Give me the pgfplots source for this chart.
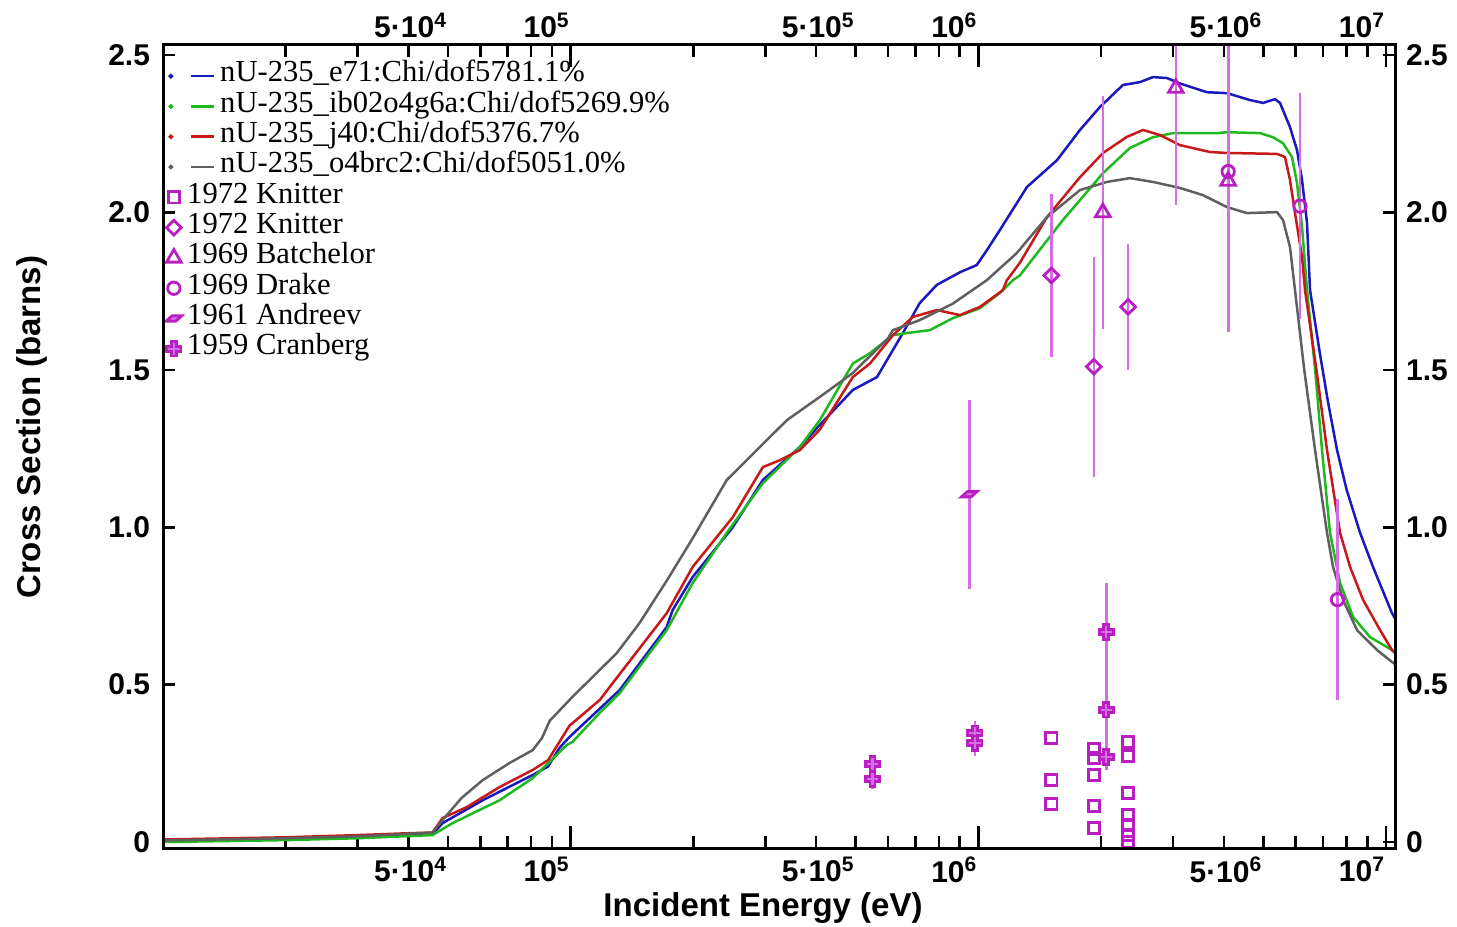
\documentclass[border=0pt]{standalone}
\usepackage{fontspec}
\setmainfont{Liberation Serif}
\newfontfamily\helv{Liberation Sans}
\usepackage{pgfplots}
\pgfplotsset{compat=1.18}

\definecolor{cblue}{RGB}{25,25,190}
\definecolor{cgreen}{RGB}{30,185,30}
\definecolor{cred}{RGB}{200,25,25}
\definecolor{cgray}{RGB}{95,95,95}
\definecolor{mag}{RGB}{185,30,195}
\definecolor{errc}{RGB}{212,110,226}

\pgfdeclareplotmark{fatplus}{%
  \pgfpathmoveto{\pgfqpoint{-0.35\pgfplotmarksize}{\pgfplotmarksize}}%
  \pgfpathlineto{\pgfqpoint{0.35\pgfplotmarksize}{\pgfplotmarksize}}%
  \pgfpathlineto{\pgfqpoint{0.35\pgfplotmarksize}{0.35\pgfplotmarksize}}%
  \pgfpathlineto{\pgfqpoint{\pgfplotmarksize}{0.35\pgfplotmarksize}}%
  \pgfpathlineto{\pgfqpoint{\pgfplotmarksize}{-0.35\pgfplotmarksize}}%
  \pgfpathlineto{\pgfqpoint{0.35\pgfplotmarksize}{-0.35\pgfplotmarksize}}%
  \pgfpathlineto{\pgfqpoint{0.35\pgfplotmarksize}{-\pgfplotmarksize}}%
  \pgfpathlineto{\pgfqpoint{-0.35\pgfplotmarksize}{-\pgfplotmarksize}}%
  \pgfpathlineto{\pgfqpoint{-0.35\pgfplotmarksize}{-0.35\pgfplotmarksize}}%
  \pgfpathlineto{\pgfqpoint{-\pgfplotmarksize}{-0.35\pgfplotmarksize}}%
  \pgfpathlineto{\pgfqpoint{-\pgfplotmarksize}{0.35\pgfplotmarksize}}%
  \pgfpathlineto{\pgfqpoint{-0.35\pgfplotmarksize}{0.35\pgfplotmarksize}}%
  \pgfpathclose\pgfusepathqfillstroke}
\pgfdeclareplotmark{para}{%
  \pgfpathmoveto{\pgfqpoint{-1.3\pgfplotmarksize}{-0.45\pgfplotmarksize}}%
  \pgfpathlineto{\pgfqpoint{0.3\pgfplotmarksize}{-0.45\pgfplotmarksize}}%
  \pgfpathlineto{\pgfqpoint{1.3\pgfplotmarksize}{0.45\pgfplotmarksize}}%
  \pgfpathlineto{\pgfqpoint{-0.3\pgfplotmarksize}{0.45\pgfplotmarksize}}%
  \pgfpathclose\pgfusepathqfillstroke}

\pgfplotsset{
  lin/.style={line width=1.25bp, no marks,
    legend image code/.code={\path (-1bp,0) (22bp,0); \fill[##1] (0,0) circle (0.5bp); \draw[##1] (10bp,0) -- (21.5bp,0);}},
  pts/.style={only marks, color=mag, line width=1.4bp,
    error bars/y dir=both, error bars/y explicit, error bars/error mark=none,
    error bars/error bar style={color=errc, line width=1.3bp},
    legend image code/.code={\path (-1bp,0) (22bp,0); \draw[##1] plot coordinates {(1.5bp,0)};}},
}
\newcommand\tlfont{\helv\bfseries\fontsize{15bp}{17bp}\selectfont}

\begin{document}
\begin{tikzpicture}
\begin{axis}[
  name=main,
  scale only axis, width=616bp, height=401.5bp,
  xmode=log, xmin=1e4, xmax=1.052e7,
  ymin=-0.019, ymax=2.532,
  axis line style={line width=1.5bp},
  tick style={line width=1.3bp, black},
  tick align=inside,
  major tick length=6bp, minor tick length=6bp,
  xtick={5e4,1e5,5e5,1e6,5e6,1e7},
  xticklabels={5·10\textsuperscript{4},10\textsuperscript{5},5·10\textsuperscript{5},10\textsuperscript{6},5·10\textsuperscript{6},10\textsuperscript{7}},
  minor xtick={2e4,3e4,4e4,6e4,7e4,8e4,9e4,2e5,3e5,4e5,6e5,7e5,8e5,9e5,2e6,3e6,4e6,6e6,7e6,8e6,9e6},
  ytick={0,0.5,1,1.5,2,2.5},
  yticklabels={0,0.5,1.0,1.5,2.0,2.5},
  ticklabel style={font=\tlfont},
  xticklabel style={anchor=north east, xshift=3bp, yshift=-1bp},
  yticklabel style={xshift=-3bp},
  xlabel={Incident Energy (eV)},
  ylabel={Cross Section (barns)},
  label style={font=\helv\bfseries\fontsize{16.5bp}{19bp}\selectfont},
  xlabel style={at={(axis description cs:0.487,0)}, anchor=base, yshift=-34bp},
  ylabel style={at={(axis description cs:0,0.524)}, anchor=center, rotate=0, yshift=65.5bp},
  legend style={at={(axis description cs:0,1)}, anchor=north west, xshift=1.5bp, yshift=-8bp,
    draw=none, fill=none, inner sep=0pt, outer sep=0pt, column sep=0pt, row sep=0pt,
    font=\fontsize{15.3bp}{15bp}\selectfont,
    nodes={inner xsep=2bp, inner ysep=0pt, text height=10.5bp, text depth=4.65bp}},
  legend cell align=left,
]
\addplot[lin, cblue] coordinates {
(1e4,0.005) (2e4,0.011) (3e4,0.016) (3.8e4,0.02) (4.58e4,0.024) (4.85e4,0.06) (6.09e4,0.133) (8.07e4,0.213) (8.8e4,0.24) (9.4e4,0.30) (9.94e4,0.334) (1.319e5,0.483) (1.72e5,0.683) (1.779e5,0.737) (1.992e5,0.842) (2.498e5,1.0) (2.96e5,1.15) (3.65e5,1.255) (4.083e5,1.325) (4.92e5,1.436) (5.64e5,1.477) (6.53e5,1.617) (7.18e5,1.712) (7.91e5,1.77) (9.01e5,1.81) (9.91e5,1.833) (1.049e6,1.88) (1.129e6,1.944) (1.316e6,2.081) (1.559e6,2.166) (1.775e6,2.262) (1.987e6,2.335) (2.263e6,2.405) (2.49e6,2.414) (2.68e6,2.43) (2.901e6,2.427) (3.12e6,2.41) (3.636e6,2.382) (4.072e6,2.379) (4.637e6,2.357) (4.992e6,2.348) (5.341e6,2.360) (5.494e6,2.348) (5.813e6,2.271) (6.048e6,2.198) (6.222e6,2.103) (6.40e6,1.966) (6.51e6,1.753) (6.887e6,1.55) (7.2e6,1.40) (7.583e6,1.245) (8.0e6,1.12) (8.636e6,0.982) (9.29e6,0.874) (1.034e7,0.727) (1.052e7,0.71)};
\addlegendentry{nU-235\_e71:Chi/dof5781.1\%}
\addplot[lin, cgreen] coordinates {
(1e4,0.0) (2e4,0.006) (3e4,0.012) (4.58e4,0.022) (5.13e4,0.06) (6.70e4,0.133) (8.07e4,0.203) (9.78e4,0.308) (1.01e5,0.318) (1.178e5,0.41) (1.319e5,0.473) (1.72e5,0.673) (1.992e5,0.823) (2.414e5,0.982) (2.96e5,1.14) (3.65e5,1.255) (4.083e5,1.34) (4.92e5,1.52) (5.42e5,1.553) (6.17e5,1.61) (6.68e5,1.617) (7.60e5,1.626) (8.65e5,1.664) (1.009e6,1.696) (1.129e6,1.744) (1.216e6,1.785) (1.264e6,1.80) (1.612e6,1.976) (2.022e6,2.125) (2.354e6,2.205) (2.68e6,2.239) (3.0e6,2.252) (3.849e6,2.252) (4.072e6,2.255) (4.908e6,2.252) (5.282e6,2.239) (5.588e6,2.220) (5.879e6,2.176) (6.048e6,2.093) (6.222e6,1.954) (6.40e6,1.753) (6.7e6,1.50) (6.966e6,1.245) (7.288e6,0.982) (7.713e6,0.823) (8.30e6,0.715) (9.136e6,0.651) (1.034e7,0.610) (1.052e7,0.605)};
\addlegendentry{nU-235\_ib02o4g6a:Chi/dof5269.9\%}
\addplot[lin, cred] coordinates {
(1e4,0.008) (2e4,0.015) (3e4,0.022) (4.0e4,0.028) (4.58e4,0.03) (4.85e4,0.076) (5.56e4,0.111) (6.70e4,0.175) (8.07e4,0.229) (8.8e4,0.26) (9.94e4,0.37) (1.178e5,0.451) (1.268e5,0.505) (1.72e5,0.727) (1.992e5,0.874) (2.498e5,1.032) (2.96e5,1.191) (3.26e5,1.213) (3.65e5,1.245) (4.083e5,1.31) (4.92e5,1.477) (5.42e5,1.52) (6.17e5,1.61) (6.91e5,1.668) (7.91e5,1.69) (9.01e5,1.674) (1.009e6,1.70) (1.148e6,1.753) (1.175e6,1.785) (1.264e6,1.84) (1.473e6,1.985) (1.775e6,2.112) (2.022e6,2.189) (2.313e6,2.24) (2.535e6,2.262) (2.789e6,2.246) (3.12e6,2.214) (3.70e6,2.192) (4.072e6,2.189) (5.402e6,2.186) (5.651e6,2.176) (5.813e6,2.103) (5.98e6,1.998) (6.222e6,1.858) (6.328e6,1.753) (6.75e6,1.50) (7.165e6,1.245) (7.713e6,0.982) (8.161e6,0.874) (8.784e6,0.769) (9.67e6,0.673) (1.034e7,0.610) (1.052e7,0.60)};
\addlegendentry{nU-235\_j40:Chi/dof5376.7\%}
\addplot[lin, cgray] coordinates {
(1e4,0.005) (2e4,0.012) (3e4,0.018) (4.58e4,0.03) (4.85e4,0.07) (5.4e4,0.14) (6.09e4,0.197) (7.08e4,0.251) (8.07e4,0.292) (8.5e4,0.33) (8.88e4,0.385) (1.01e5,0.461) (1.297e5,0.60) (1.476e5,0.696) (1.72e5,0.83) (1.992e5,0.965) (2.414e5,1.15) (2.86e5,1.245) (3.39e5,1.34) (4.083e5,1.414) (4.92e5,1.49) (6.0e5,1.60) (6.17e5,1.626) (7.18e5,1.658) (8.65e5,1.71) (1.049e6,1.785) (1.24e6,1.87) (1.473e6,1.985) (1.775e6,2.071) (2.067e6,2.097) (2.354e6,2.109) (2.68e6,2.097) (3.12e6,2.078) (3.556e6,2.055) (4.072e6,2.017) (4.559e6,1.998) (5.402e6,2.001) (5.588e6,1.976) (5.813e6,1.890) (5.98e6,1.753) (6.3e6,1.50) (6.697e6,1.245) (7.165e6,0.982) (7.413e6,0.874) (7.845e6,0.769) (8.49e6,0.673) (9.504e6,0.610) (1.034e7,0.572) (1.052e7,0.565)};
\addlegendentry{nU-235\_o4brc2:Chi/dof5051.0\%}
% 1972 Knitter squares
\addplot[pts, mark=square, mark size=2.8bp] coordinates {
(1.51e6,0.33) (1.51e6,0.197) (1.51e6,0.12)
(1.92e6,0.296) (1.92e6,0.267) (1.92e6,0.213) (1.92e6,0.114) (1.92e6,0.044)
(2.33e6,0.318) (2.33e6,0.273) (2.33e6,0.156) (2.33e6,0.086) (2.33e6,0.054) (2.33e6,0.022) (2.33e6,0.0)};
\addlegendentry{\hspace*{-16.5bp}1972 Knitter}
% 1972 Knitter diamonds
\addplot[pts, mark=square, mark size=2.6bp, mark options={rotate=45}] coordinates {
(1.51e6,1.80) +- (0,0.26) (1.92e6,1.51) +- (0,0.35) (2.33e6,1.70) +- (0,0.20)};
\addlegendentry{\hspace*{-16.5bp}1972 Knitter}
% 1969 Batchelor
\addplot[pts, mark=triangle, mark size=4.2bp] coordinates {
(2.02e6,2.0) +- (0,0.37) (3.05e6,2.395) +- (0,0.37) (4.1e6,2.10) +- (0,0.48)};
\addlegendentry{\hspace*{-16.5bp}1969 Batchelor}
% 1969 Drake
\addplot[pts, mark=o, mark size=3.1bp] coordinates {
(4.1e6,2.13) +- (0,0.38) (6.15e6,2.02) +- (0,0.36) (7.6e6,0.77) +- (0,0.32)};
\addlegendentry{\hspace*{-16.5bp}1969 Drake}
% 1961 Andreev
\addplot[pts, mark=para, mark size=3bp, mark options={fill=errc}] coordinates {
(9.5e5,1.105) +- (0,0.30)};
\addlegendentry{\hspace*{-16.5bp}1961 Andreev}
% 1959 Cranberg
\addplot[pts, mark=fatplus, mark size=3.6bp, mark options={fill=errc}] coordinates {
(5.5e5,0.248) +- (0,0.03) (5.5e5,0.20) +- (0,0.03)
(9.8e5,0.346) +- (0,0.04) (9.8e5,0.314) +- (0,0.04)
(2.06e6,0.667) +- (0,0.155) (2.06e6,0.42) +- (0,0.15) (2.06e6,0.27) +- (0,0.04)};
\addlegendentry{\hspace*{-16.5bp}1959 Cranberg}
\end{axis}
% long decade ticks and short minor y ticks
\begin{axis}[
  scale only axis, width=616bp, height=401.5bp,
  xmode=log, xmin=1e4, xmax=1.052e7,
  ymin=-0.019, ymax=2.532,
  axis line style={line width=1.5bp},
  tick style={line width=1.3bp, black},
  tick align=inside,
  major tick length=11bp, minor tick length=3.5bp,
  xtick={1e5,1e6,1e7}, xticklabels={,,},
  ytick=\empty,
  minor ytick={0.1,0.2,0.3,0.4,0.6,0.7,0.8,0.9,1.1,1.2,1.3,1.4,1.6,1.7,1.8,1.9,2.1,2.2,2.3,2.4},
]
\end{axis}
% upper and right tick labels
\begin{axis}[
  scale only axis, width=616bp, height=401.5bp,
  xmode=log, xmin=1e4, xmax=1.052e7,
  ymin=-0.019, ymax=2.532,
  axis line style={line width=1.5bp},
  major tick length=0pt, minor tick length=0pt,
  xtick={5e4,1e5,5e5,1e6,5e6,1e7},
  xticklabels={5·10\textsuperscript{4},10\textsuperscript{5},5·10\textsuperscript{5},10\textsuperscript{6},5·10\textsuperscript{6},10\textsuperscript{7}},
  ytick={0,0.5,1,1.5,2,2.5},
  yticklabels={0,0.5,1.0,1.5,2.0,2.5},
  ticklabel style={font=\tlfont},
  xticklabel pos=upper, yticklabel pos=right,
  xticklabel style={anchor=south east, xshift=3bp},
  yticklabel style={xshift=2bp},
]
\end{axis}
\pgfresetboundingbox
\path[use as bounding box] ([shift={(-81.5bp,-39.5bp)}]main.south west) rectangle ([shift={(31bp,22.5bp)}]main.north east);
\end{tikzpicture}
\end{document}
